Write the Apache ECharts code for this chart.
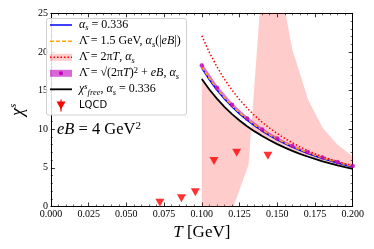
<!DOCTYPE html>
<html><head><meta charset="utf-8">
<script src="https://cdn.jsdelivr.net/npm/echarts@6/dist/echarts.min.js"></script>
<style>html,body{margin:0;padding:0;background:#fff}#c{width:374px;height:249px}</style>
</head><body><div id="c"></div>
<script>
// ---- data ----
const T = [0.100,0.105,0.110,0.115,0.120,0.125,0.130,0.135,0.140,0.145,0.150,0.155,0.160,0.165,0.170,0.175,0.180,0.185,0.190,0.195,0.200];
const chiConst = [17.9,16.4,15.08,13.92,12.9,11.98,11.17,10.43,9.77,9.17,8.62,8.13,7.68,7.27,6.88,6.54,6.21,5.91,5.64,5.38,5.14];
const chiEB    = [18.05,16.56,15.24,14.07,13.04,12.12,11.3,10.56,9.89,9.28,8.73,8.23,7.78,7.36,6.97,6.62,6.29,5.99,5.71,5.45,5.21];
const chi2piT  = [22.1,19.95,18.09,16.48,15.07,13.83,12.74,11.77,10.9,10.13,9.43,8.81,8.24,7.72,7.25,6.82,6.45,6.12,5.82,5.55,5.3];
const chiFree  = [16.5,15.14,13.95,12.9,11.96,11.13,10.39,9.72,9.12,8.57,8.07,7.62,7.2,6.82,6.47,6.15,5.85,5.58,5.32,5.08,4.86];
const band2piTEdgeA = [16.4,15.05,13.86,12.82,11.88,11.05,10.32,9.65,9.05,8.51,8.02,7.57,7.15,6.78,6.43,6.11,5.82,5.55,5.29,5.06,4.84];
const band2piTEdgeBT = [0.100,0.121,0.131,0.1385,0.145,0.150,0.1555,0.160,0.1705,0.180,0.190,0.200];
const band2piTEdgeB  = [0,0,5.4,25.5,32,32,25,20.3,13.8,10.2,8.0,6.5];
const Tmix = [0.10,0.11,0.12,0.13,0.14,0.15,0.16,0.17,0.18,0.19,0.20];
const chiMix     = [18.26,15.38,13.16,11.39,9.97,8.79,7.83,7.02,6.33,5.75,5.24];
const chiMixLow  = [17.85,15.0,12.82,11.09,9.71,8.57,7.64,6.86,6.19,5.63,5.14];
const chiMixHigh = [18.6,15.68,13.42,11.62,10.17,8.97,7.99,7.16,6.45,5.85,5.33];
const lqcdT   = [0.0722,0.0865,0.0957,0.1081,0.1231,0.1438];
const lqcdChi = [0.5,1.06,1.84,5.89,6.97,6.58];
const xMin = 0, xMax = 0.2, xStep = 0.025;
const yMin = 0, yMax = 25, yStep = 5;

// ---- chart ----
const SERIF = '"Liberation Serif", "DejaVu Serif", serif';
const pairs = (xs, ys) => xs.map((x, i) => [x, ys[i]]);

function bandSeries(xs1, ys1, xs2, ys2, fill, z) {
  return {
    type: 'custom', z: z, clip: true, silent: true, data: [[xs1[0], ys1[0]]],
    renderItem(params, api) {
      const pts = [];
      for (let i = 0; i < xs1.length; i++) pts.push(api.coord([xs1[i], ys1[i]]));
      for (let i = xs2.length - 1; i >= 0; i--) pts.push(api.coord([xs2[i], ys2[i]]));
      return { type: 'polygon', shape: { points: pts }, style: { fill: fill, stroke: null } };
    }
  };
}

const tickCommon = {
  axisLine: { onZero: false, lineStyle: { color: '#000', width: 1 } },
  axisTick: { inside: true, length: 4, lineStyle: { color: '#000', width: 0.8 } },
  minorTick: { show: true, splitNumber: 5, length: 2, lineStyle: { color: '#000', width: 0.6 } },
  splitLine: { show: false }, minorSplitLine: { show: false }
};

const chart = echarts.init(document.getElementById('c'), null, { renderer: 'canvas' });
const lab = { fontFamily: SERIF, fontSize: 10, color: '#000' };

const legendGraphics = [];
const LX0 = 50, LX1 = 72, LTX = 79;
const rows = [25, 41.3, 57.3, 73.3, 89.3, 105.5];
legendGraphics.push({ type: 'rect', shape: { x: 46.5, y: 18.5, width: 140, height: 96.5, r: 2 },
  style: { fill: 'rgba(255,255,255,0.85)', stroke: '#d0d0d0', lineWidth: 1 }, z: 100 });
legendGraphics.push({ type: 'line', shape: { x1: LX0, y1: rows[0], x2: LX1, y2: rows[0] }, style: { stroke: '#0000ff', lineWidth: 1.5 }, z: 101 });
legendGraphics.push({ type: 'line', shape: { x1: LX0, y1: rows[1], x2: LX1, y2: rows[1] }, style: { stroke: '#ffa500', lineWidth: 1.5, lineDash: [4, 2] }, z: 101 });
legendGraphics.push({ type: 'rect', shape: { x: LX0, y: rows[2] - 3.5, width: LX1 - LX0, height: 7 }, style: { fill: 'rgba(255,0,0,0.2)' }, z: 101 });
legendGraphics.push({ type: 'line', shape: { x1: LX0, y1: rows[2], x2: LX1, y2: rows[2] }, style: { stroke: '#ff0000', lineWidth: 1.5, lineDash: [1.5, 2] }, z: 102 });
legendGraphics.push({ type: 'rect', shape: { x: LX0, y: rows[3] - 3.5, width: LX1 - LX0, height: 7 }, style: { fill: 'rgba(191,0,191,0.6)' }, z: 101 });
legendGraphics.push({ type: 'circle', shape: { cx: (LX0 + LX1) / 2, cy: rows[3], r: 2 }, style: { fill: '#bf00bf' }, z: 102 });
legendGraphics.push({ type: 'line', shape: { x1: LX0, y1: rows[4], x2: LX1, y2: rows[4] }, style: { stroke: '#000', lineWidth: 1.8 }, z: 101 });
legendGraphics.push({ type: 'line', shape: { x1: 61, y1: rows[5] - 6, x2: 61, y2: rows[5] + 6 }, style: { stroke: '#ff0000', lineWidth: 1.2 }, z: 101 });
legendGraphics.push({ type: 'polygon', shape: { points: [[56.5, rows[5] - 4], [65.5, rows[5] - 4], [61, rows[5] + 4]] }, style: { fill: '#ff0000' }, z: 102 });

const richLeg = {
  i: { fontStyle: 'italic', fontFamily: SERIF, fontSize: 12, lineHeight: 15 },
  r: { fontFamily: SERIF, fontSize: 12, lineHeight: 15 },
  sub: { fontStyle: 'italic', fontFamily: SERIF, fontSize: 8.5, lineHeight: 9, verticalAlign: 'bottom' },
  sup: { fontStyle: 'italic', fontFamily: SERIF, fontSize: 8.5, lineHeight: 9, verticalAlign: 'top' },
  supr: { fontFamily: SERIF, fontSize: 8.5, lineHeight: 9, verticalAlign: 'top' },
  sans: { fontFamily: '"DejaVu Sans", sans-serif', fontSize: 10, lineHeight: 15 }
};
const legTexts = [
  '{i|α}{sub|s}{r| = 0.336}',
  '{r|Λ\u0304 = 1.5 GeV, }{i|α}{sub|s}{r|(|}{i|eB}{r||)}',
  '{r|Λ\u0304 = 2π}{i|T}{r|, }{i|α}{sub|s}',
  '{r|Λ\u0304 = √(2π}{i|T}{r|)}{supr|2}{r| + }{i|eB}{r|, }{i|α}{sub|s}',
  '{i|χ}{sup|s}{sub|free}{r|, }{i|α}{sub|s}{r| = 0.336}',
  '{sans|LQCD}'
];
legTexts.forEach((t, k) => legendGraphics.push({
  type: 'text', z: 103,
  style: { text: t, x: LTX, y: rows[k], verticalAlign: 'middle', align: 'left', fill: '#000', rich: richLeg, fontFamily: SERIF, fontSize: 12 }
}));
legendGraphics.push({ type: 'text', z: 103, style: {
  text: '{i|eB}{r| = 4 GeV}{s|2}', x: 57, y: 130, verticalAlign: 'middle', fill: '#000',
  rich: { i: { fontStyle: 'italic', fontFamily: SERIF, fontSize: 16.5, lineHeight: 18 },
          r: { fontFamily: SERIF, fontSize: 16.5, lineHeight: 18 },
          s: { fontFamily: SERIF, fontSize: 11, lineHeight: 11, verticalAlign: 'top' } } } });

const option = {
  animation: false,
  backgroundColor: '#fff',
  grid: { left: 40.7, right: 21.3, top: 13.3, bottom: 42.5 },
  xAxis: [
    Object.assign({ type: 'value', min: xMin, max: xMax, interval: xStep, position: 'bottom',
      axisLabel: Object.assign({ formatter: v => v.toFixed(3), margin: 3 }, lab),
      name: '{i|T}{r| [GeV]}', nameLocation: 'middle', nameGap: 12,
      nameTextStyle: { color: '#000', rich: {
        i: { fontStyle: 'italic', fontFamily: SERIF, fontSize: 17, lineHeight: 20 },
        r: { fontFamily: SERIF, fontSize: 17, lineHeight: 20 } } } }, tickCommon),
    Object.assign({ type: 'value', min: xMin, max: xMax, interval: xStep, position: 'top',
      axisLabel: { show: false } }, tickCommon)
  ],
  yAxis: [
    Object.assign({ type: 'value', min: yMin, max: yMax, interval: yStep, position: 'left',
      axisLabel: Object.assign({ margin: 3 }, lab),
      name: '{c|χ}{s|s}', nameLocation: 'middle', nameRotate: 90, nameGap: 22,
      nameTextStyle: { color: '#000', rich: {
        c: { fontStyle: 'italic', fontFamily: SERIF, fontSize: 18, lineHeight: 20 },
        s: { fontStyle: 'italic', fontFamily: SERIF, fontSize: 11, lineHeight: 11, verticalAlign: 'top' } } } }, tickCommon),
    Object.assign({ type: 'value', min: yMin, max: yMax, interval: yStep, position: 'right',
      axisLabel: { show: false } }, tickCommon)
  ],
  series: [
    bandSeries(T, band2piTEdgeA, band2piTEdgeBT, band2piTEdgeB, 'rgba(255,0,0,0.2)', 1),
    bandSeries(Tmix, chiMixLow, Tmix, chiMixHigh, 'rgba(191,0,191,0.55)', 2),
    { type: 'line', data: pairs(T, chiConst), showSymbol: false, z: 3, silent: true,
      lineStyle: { color: '#0000ff', width: 1.5 } },
    { type: 'line', data: pairs(T, chiEB), showSymbol: false, z: 4, silent: true,
      lineStyle: { color: '#ffa500', width: 1.5, type: [4, 2] } },
    { type: 'line', data: pairs(T, chi2piT), showSymbol: false, z: 4, silent: true,
      lineStyle: { color: '#ff0000', width: 1.5, type: [1.5, 2] } },
    { type: 'scatter', data: pairs(Tmix, chiMix), symbol: 'circle', symbolSize: 4.5, z: 5, silent: true,
      itemStyle: { color: '#bf00bf' } },
    { type: 'line', data: pairs(T, chiFree), showSymbol: false, z: 5, silent: true,
      lineStyle: { color: '#000000', width: 1.8 } },
    { type: 'scatter', data: pairs(lqcdT, lqcdChi), symbol: 'triangle', symbolRotate: 180, symbolSize: [9, 8], z: 6, silent: true,
      itemStyle: { color: '#ff0000' } }
  ],
  graphic: legendGraphics
};
chart.setOption(option);
</script></body></html>
